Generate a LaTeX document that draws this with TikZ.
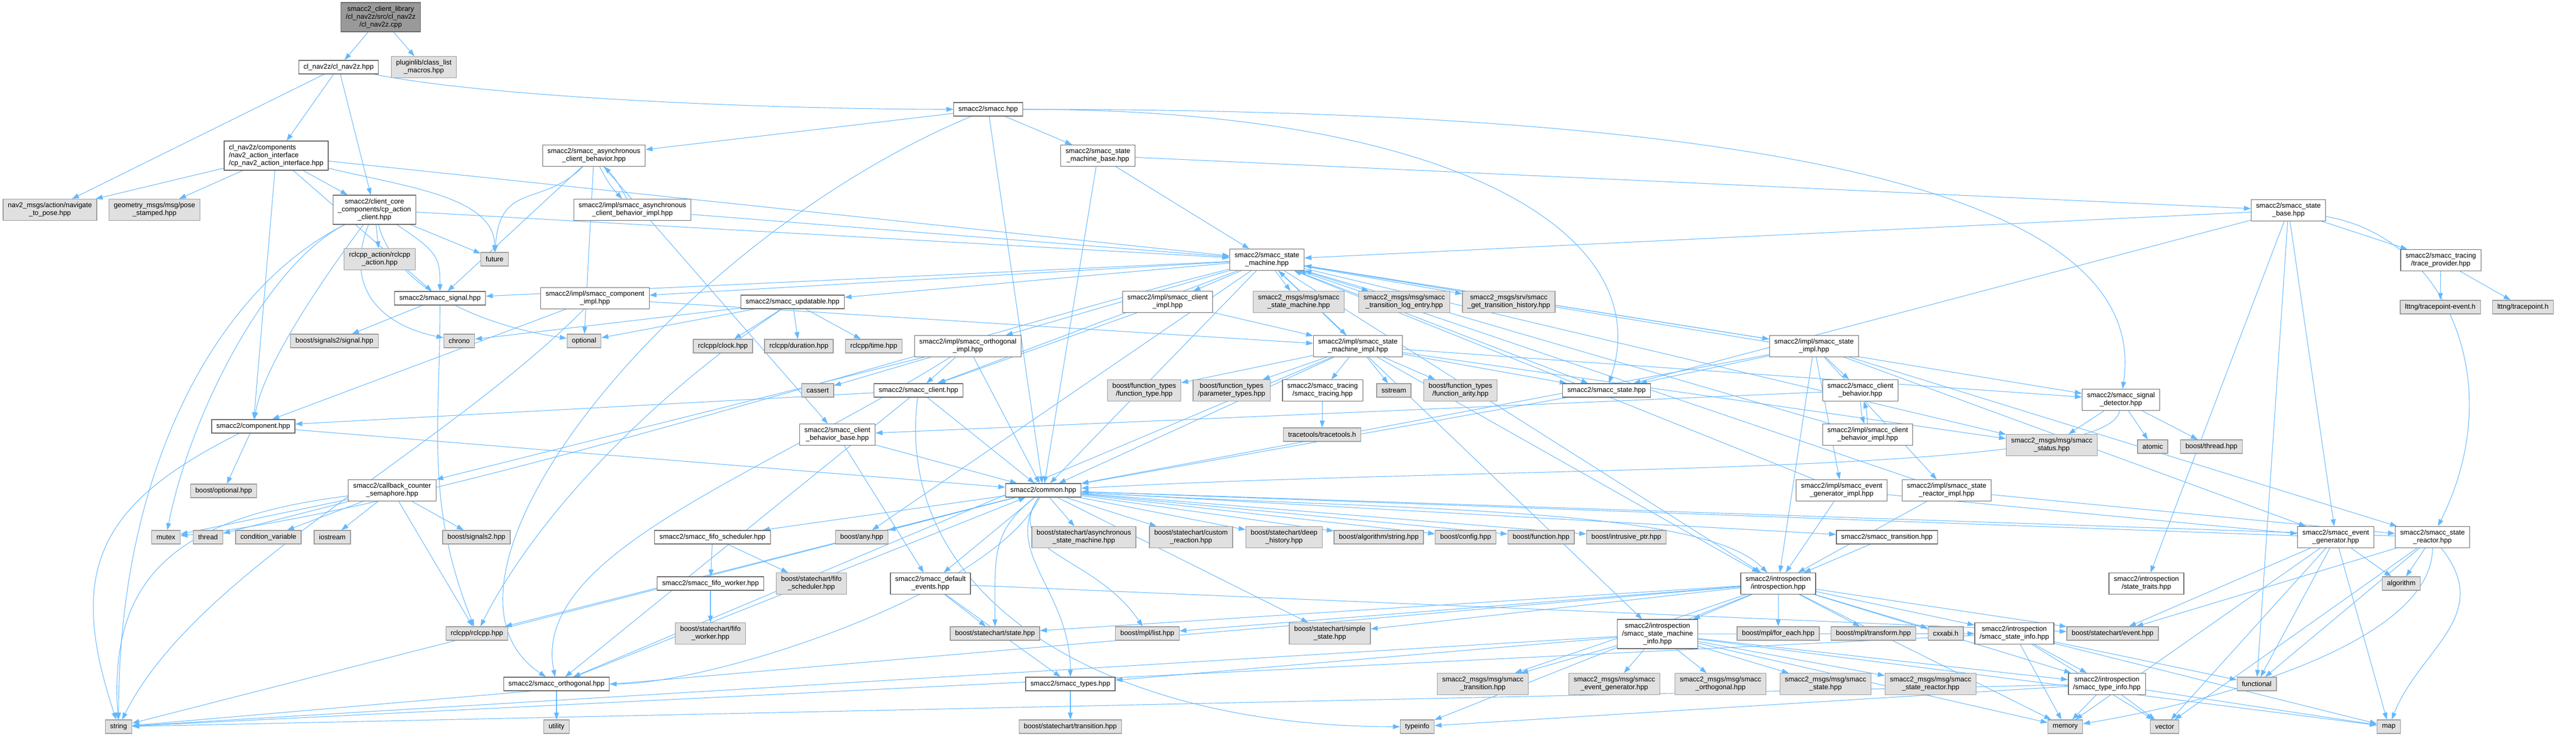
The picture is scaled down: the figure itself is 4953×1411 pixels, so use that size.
\documentclass[tikz,border=0pt]{standalone}
\usepackage{fontspec}
\setmainfont{Liberation Sans}
\usetikzlibrary{arrows.meta}
\definecolor{depblue}{HTML}{63B8FF}
\pgfdeclarelayer{background}
\pgfsetlayers{background,main}

\begin{document}
\begin{tikzpicture}[%
    >={Stealth[length=10pt,width=7pt,inset=0pt]},
    x=0.75pt, y=-0.75pt,
    every node/.style={font=\fontsize{10}{11.25}\selectfont, align=center},
    file/.style={draw=black!60, fill=white, line width=1pt, inner xsep=7pt, inner ysep=5pt, minimum height=19.5pt},
    ext/.style={file, draw=black!40, fill=black!12},
    rootfile/.style={file, fill=black!40},
    dep/.style={->, color=depblue, line width=0.8pt},
    cv/.style n args={4}{to path={.. controls +(#1,#2) and +(#3,#4) .. (\tikztotarget)}}
  ]
  \useasboundingbox (0,0) rectangle (4953,1411);

  % top part
  \node[rootfile] (root) at (732,33) {smacc2\_client\_library\\/cl\_nav2z/src/cl\_nav2z\\/cl\_nav2z.cpp};
  \node[file] (clnav) at (651,129) {cl\_nav2z/cl\_nav2z.hpp};
  \node[ext] (plugin) at (815,129) {pluginlib/class\_list\\\_macros.hpp};
  \node[file, align=left] (cpnav) at (531,299) {cl\_nav2z/components\\/nav2\_action\_interface\\/cp\_nav2\_action\_interface.hpp};
  \node[file] (async) at (1142,299) {smacc2/smacc\_asynchronous\\\_client\_behavior.hpp};
  \node[file] (asyncimpl) at (1216,403) {smacc2/impl/smacc\_asynchronous\\\_client\_behavior\_impl.hpp};
  \node[ext] (nav2) at (96,403) {nav2\_msgs/action/navigate\\\_to\_pose.hpp};
  \node[ext] (geom) at (297,403) {geometry\_msgs/msg/pose\\\_stamped.hpp};
  \node[file] (cpac) at (720,403) {smacc2/client\_core\\\_components/cp\_action\\\_client.hpp};
  \node[ext] (rclact) at (730,498) {rclcpp\_action/rclcpp\\\_action.hpp};
  \node[ext] (future) at (951,498) {future};
  \node[file] (smacc) at (1900,210) {smacc2/smacc.hpp};
  \node[file] (smbase) at (2111,299) {smacc2/smacc\_state\\\_machine\_base.hpp};
  \node[file] (sm) at (2436,499) {smacc2/smacc\_state\\\_machine.hpp};
  \node[file] (statebase) at (4400,404) {smacc2/smacc\_state\\\_base.hpp};
  \node[file] (traceprov) at (4693,500) {smacc2/smacc\_tracing\\/trace\_provider.hpp};
  \node[ext] (lttngev) at (4692,590) {lttng/tracepoint-event.h};
  \node[ext] (lttng) at (4851,590) {lttng/tracepoint.h};
  \node[file] (sigdet) at (4078,768) {smacc2/smacc\_signal\\\_detector.hpp};
  \node[ext] (status) at (3945,855) {smacc2\_msgs/msg/smacc\\\_status.hpp};
  \node[ext] (atomic) at (4139,858) {atomic};
  \node[ext] (bthread) at (4252,858) {boost/thread.hpp};

  % middle part
  \node[file] (signal) at (846,573) {smacc2/smacc\_signal.hpp};
  \node[file] (compimpl) at (1144,573) {smacc2/impl/smacc\_component\\\_impl.hpp};
  \node[ext] (sigsig) at (643,655) {boost/signals2/signal.hpp};
  \node[ext] (chrono) at (883,655) {chrono};
  \node[ext] (optional) at (1123,655) {optional};
  \node[file] (component) at (487,819) {smacc2/component.hpp};
  \node[ext] (boptional) at (430,943) {boost/optional.hpp};
  \node[file] (semaphore) at (754,942) {smacc2/callback\_counter\\\_semaphore.hpp};
  \node[ext] (mutex) at (319,1032) {mutex};
  \node[ext] (thread) at (400,1032) {thread};
  \node[ext] (condvar) at (516,1032) {condition\_variable};
  \node[ext] (iostream) at (639,1032) {iostream};
  \node[ext] (bsig) at (916,1032) {boost/signals2.hpp};
  \node[ext] (rclcpp) at (917,1217) {rclcpp/rclcpp.hpp};
  \node[file] (orth) at (1070,1314) {smacc2/smacc\_orthogonal.hpp};
  \node[ext] (string) at (228,1396) {string};
  \node[ext] (utility) at (1070,1396) {utility};
  \node[file] (updatable) at (1524,580) {smacc2/smacc\_updatable.hpp};
  \node[ext] (clock) at (1390,665) {rclcpp/clock.hpp};
  \node[ext] (duration) at (1536,665) {rclcpp/duration.hpp};
  \node[ext] (time) at (1680,665) {rclcpp/time.hpp};
  \node[file] (orthimpl) at (1861,665) {smacc2/impl/smacc\_orthogonal\\\_impl.hpp};
  \node[ext] (cassert) at (1572,750) {cassert};
  \node[file] (client) at (1766,750) {smacc2/smacc\_client.hpp};
  \node[file] (cbbase) at (1610,835) {smacc2/smacc\_client\\\_behavior\_base.hpp};
  \node[file] (clientimpl) at (2245,580) {smacc2/impl/smacc\_client\\\_impl.hpp};
  \node[ext] (ftype) at (2200,750) {boost/function\_types\\/function\_type.hpp};
  \node[ext] (ptypes) at (2368,750) {boost/function\_types\\/parameter\_types.hpp};
  \node[ext] (msgsm) at (2497,580) {smacc2\_msgs/msg/smacc\\\_state\_machine.hpp};
  \node[ext] (msgtle) at (2700,580) {smacc2\_msgs/msg/smacc\\\_transition\_log\_entry.hpp};
  \node[ext] (srvgth) at (2901,580) {smacc2\_msgs/srv/smacc\\\_get\_transition\_history.hpp};
  \node[file] (smimpl) at (2611,665) {smacc2/impl/smacc\_state\\\_machine\_impl.hpp};
  \node[file] (tracing) at (2543,750) {smacc2/smacc\_tracing\\/smacc\_tracing.hpp};
  \node[ext] (sstream) at (2680,750) {sstream};
  \node[ext] (farity) at (2808,750) {boost/function\_types\\/function\_arity.hpp};
  \node[file] (state) at (3089,750) {smacc2/smacc\_state.hpp};
  \node[ext] (tracetools) at (2542,835) {tracetools/tracetools.h};
  \node[file] (stateimpl) at (3488,665) {smacc2/impl/smacc\_state\\\_impl.hpp};
  \node[file] (cb) at (3577,750) {smacc2/smacc\_client\\\_behavior.hpp};
  \node[file] (cbimpl) at (3591,835) {smacc2/impl/smacc\_client\\\_behavior\_impl.hpp};

  % lower part
  \node[file] (common) at (2006,942) {smacc2/common.hpp};
  \node[file] (fifosched) at (1370,1032) {smacc2/smacc\_fifo\_scheduler.hpp};
  \node[ext] (any) at (1657,1032) {boost/any.hpp};
  \node[ext] (asyncsm) at (2084,1032) {boost/statechart/asynchronous\\\_state\_machine.hpp};
  \node[ext] (custom) at (2290,1032) {boost/statechart/custom\\\_reaction.hpp};
  \node[ext] (deep) at (2469,1032) {boost/statechart/deep\\\_history.hpp};
  \node[file] (fifoworker) at (1366,1121) {smacc2/smacc\_fifo\_worker.hpp};
  \node[ext] (bfifosched) at (1560,1121) {boost/statechart/fifo\\\_scheduler.hpp};
  \node[file] (defev) at (1789,1121) {smacc2/smacc\_default\\\_events.hpp};
  \node[ext] (bfifoworker) at (1366,1217) {boost/statechart/fifo\\\_worker.hpp};
  \node[ext] (bstate) at (1913,1217) {boost/statechart/state.hpp};
  \node[ext] (mpllist) at (2206,1217) {boost/mpl/list.hpp};
  \node[file] (types) at (2058,1314) {smacc2/smacc\_types.hpp};
  \node[ext] (btrans) at (2058,1396) {boost/statechart/transition.hpp};
  \node[ext] (algstr) at (2651,1032) {boost/algorithm/string.hpp};
  \node[ext] (config) at (2818,1032) {boost/config.hpp};
  \node[ext] (function) at (2963,1032) {boost/function.hpp};
  \node[ext] (intrusive) at (3127,1032) {boost/intrusive\_ptr.hpp};
  \node[file] (transition) at (3628,1032) {smacc2/smacc\_transition.hpp};
  \node[file] (evgenimpl) at (3541,942) {smacc2/impl/smacc\_event\\\_generator\_impl.hpp};
  \node[file] (srimpl) at (3743,942) {smacc2/impl/smacc\_state\\\_reactor\_impl.hpp};
  \node[file] (intro) at (3419,1121) {smacc2/introspection\\/introspection.hpp};
  \node[ext] (simple) at (2557,1217) {boost/statechart/simple\\\_state.hpp};
  \node[file] (sminfo) at (3187,1218) {smacc2/introspection\\/smacc\_state\_machine\\\_info.hpp};
  \node[ext] (foreach) at (3419,1217) {boost/mpl/for\_each.hpp};
  \node[ext] (transform) at (3602,1217) {boost/mpl/transform.hpp};
  \node[ext] (cxxabi) at (3741,1217) {cxxabi.h};
  \node[ext] (msgtrans) at (2851,1314) {smacc2\_msgs/msg/smacc\\\_transition.hpp};
  \node[ext] (msgevgen) at (3104,1314) {smacc2\_msgs/msg/smacc\\\_event\_generator.hpp};
  \node[ext] (msgorth) at (3308,1314) {smacc2\_msgs/msg/smacc\\\_orthogonal.hpp};
  \node[ext] (msgstate) at (3510,1314) {smacc2\_msgs/msg/smacc\\\_state.hpp};
  \node[ext] (msgsr) at (3712,1314) {smacc2\_msgs/msg/smacc\\\_state\_reactor.hpp};
  \node[ext] (typeinfo) at (2725,1396) {typeinfo};
  \node[file] (evgen) at (4491,1032) {smacc2/smacc\_event\\\_generator.hpp};
  \node[file] (sr) at (4677,1032) {smacc2/smacc\_state\\\_reactor.hpp};
  \node[file] (traits) at (4127,1121) {smacc2/introspection\\/state\_traits.hpp};
  \node[ext] (algorithm) at (4617,1121) {algorithm};
  \node[file] (stateinfo) at (3873,1217) {smacc2/introspection\\/smacc\_state\_info.hpp};
  \node[ext] (bevent) at (4062,1217) {boost/statechart/event.hpp};
  \node[file] (typeinf) at (4051,1314) {smacc2/introspection\\/smacc\_type\_info.hpp};
  \node[ext] (functional) at (4339,1314) {functional};
  \node[ext] (memory) at (3971,1396) {memory};
  \node[ext] (vector) at (4162,1396) {vector};
  \node[ext] (map) at (4593,1396) {map};

  \begin{pgfonlayer}{background}
  \path[dep]
    (root) edge (clnav) edge (plugin)
    (clnav) edge (nav2) edge (cpnav) edge (cpac) edge[cv={300}{60}{-400}{0}] (smacc)
    (cpnav) edge (nav2) edge (geom) edge (cpac) edge[cv={250}{60}{0}{-120}] (future) edge (component) edge (signal) edge (sm)
    (cpac) edge (rclact) edge (future) edge[cv={-90}{120}{20}{-120}] (component) edge[cv={120}{80}{0}{-80}] (signal)
           edge[cv={-60}{150}{-150}{-30}] (chrono) edge[cv={40}{150}{-200}{-30}] (optional)
           edge[cv={-200}{100}{50}{-250}] (mutex) edge[cv={-300}{150}{0}{-500}] (string) edge (sm)
    (async) edge[cv={-100}{100}{10}{-150}] (future) edge (signal) edge (cbbase) edge (optional) edge[bend right=8] (asyncimpl)
    (asyncimpl) edge[bend right=8] (async) edge (sm)
    (smacc) edge (async) edge (smbase) edge (common) edge[cv={-600}{250}{-300}{-200}] (orth)
            edge[cv={900}{0}{100}{-300}] (state) edge[cv={1500}{0}{60}{-400}] (sigdet)
    (smbase) edge (sm) edge (statebase) edge (common);
  \path[dep]
    (sm) edge (signal) edge (compimpl) edge (updatable) edge (orthimpl) edge (client) edge (clientimpl)
         edge (msgsm) edge (msgtle) edge (srvgth) edge (smimpl) edge (state) edge (stateimpl)
         edge (common) edge (sigdet) edge (status) edge (intro) edge (sminfo) edge (any)
         edge[cv={-600}{150}{500}{-50}] (mutex)
    (statebase) edge (sm) edge (traceprov) edge (evgen) edge[cv={300}{50}{150}{-300}] (sr) edge (functional) edge (traits) edge (state)
    (traceprov) edge (lttngev) edge (lttng)
    (sigdet) edge (status) edge (atomic) edge (bthread) edge[cv={-20}{150}{900}{-50}] (common)
    (signal) edge (sigsig) edge[cv={0}{250}{-100}{-250}] (rclcpp)
    (compimpl) edge (component) edge[cv={-300}{300}{150}{-300}] (string) edge (smimpl)
    (component) edge (boptional) edge (common) edge[cv={-300}{150}{-100}{-300}] (string)
    (semaphore) edge (mutex) edge (thread) edge (condvar) edge (iostream) edge (bsig) edge (rclcpp) edge[cv={-400}{50}{-20}{-300}] (string)
    (updatable) edge (clock) edge (duration) edge (time) edge (chrono) edge (optional) edge[cv={-300}{200}{100}{-200}] (rclcpp)
    (orthimpl) edge (cassert) edge (client) edge[cv={-400}{250}{-50}{-250}] (orth) edge (common) edge (semaphore)
    (client) edge (component) edge (common) edge[cv={-50}{400}{-600}{0}] (typeinfo) edge (orth)
    (cbbase) edge (common) edge (defev)
    (clientimpl) edge (client) edge (smimpl);
  \path[dep]
    (smimpl) edge (sm) edge (tracing) edge (sstream) edge (farity) edge (ftype) edge (ptypes) edge (state)
             edge (orth) edge (common) edge (intro) edge (sigdet) edge (status)
    (tracing) edge (tracetools)
    (state) edge (common)
    (stateimpl) edge (sm) edge (state) edge (cb) edge (evgenimpl) edge (srimpl) edge (evgen) edge (sr) edge (common) edge (intro)
    (cb) edge (cbbase) edge[bend right=8] (cbimpl)
    (cbimpl) edge[bend right=8] (cb) edge (sm)
    (evgenimpl) edge (sm) edge (evgen) edge (intro)
    (srimpl) edge (sm) edge (sr) edge (intro)
    (evgen) edge (bevent) edge (algorithm) edge (functional) edge (memory) edge (vector) edge (map) edge (common)
    (sr) edge (bevent) edge (algorithm) edge (functional) edge[cv={0}{200}{300}{-50}] (memory) edge (vector)
         edge[cv={120}{150}{60}{-150}] (map) edge (common)
    (transition) edge (intro);
  \path[dep]
    (common) edge (fifosched) edge (any) edge (defev) edge[cv={-100}{80}{0}{-150}] (bstate)
             edge[cv={-80}{120}{-100}{-150}] (mpllist) edge (asyncsm) edge (custom)
             edge (deep) edge (algstr) edge (config) edge (function) edge (intrusive) edge (transition)
             edge[cv={700}{40}{-150}{-150}] (intro) edge (simple) edge (rclcpp)
             edge[cv={-100}{200}{300}{0}] (orth) edge[cv={-80}{120}{0}{-180}] (types) edge (string)
    (intro) edge (sminfo) edge (foreach) edge (transform) edge (cxxabi) edge (stateinfo) edge (bevent) edge (typeinf)
            edge (msgtrans) edge (mpllist) edge (bstate) edge (simple) edge (string) edge (typeinfo) edge (memory)
    (sminfo) edge (msgtrans) edge (msgevgen) edge (msgorth) edge (msgstate) edge (msgsr) edge (stateinfo)
             edge (typeinf) edge (types) edge (string) edge (memory) edge (map)
    (stateinfo) edge (memory) edge (typeinf) edge (vector) edge (functional) edge (map) edge (string)
    (typeinf) edge (memory) edge (vector) edge (map) edge (string) edge (typeinfo)
    (orth) edge (utility) edge (common)
    (defev) edge (bstate) edge (types) edge (bevent)
    (types) edge (btrans)
    (fifosched) edge (fifoworker) edge (bfifosched)
    (fifoworker) edge (bfifoworker);
  \end{pgfonlayer}
\end{tikzpicture}
\end{document}
